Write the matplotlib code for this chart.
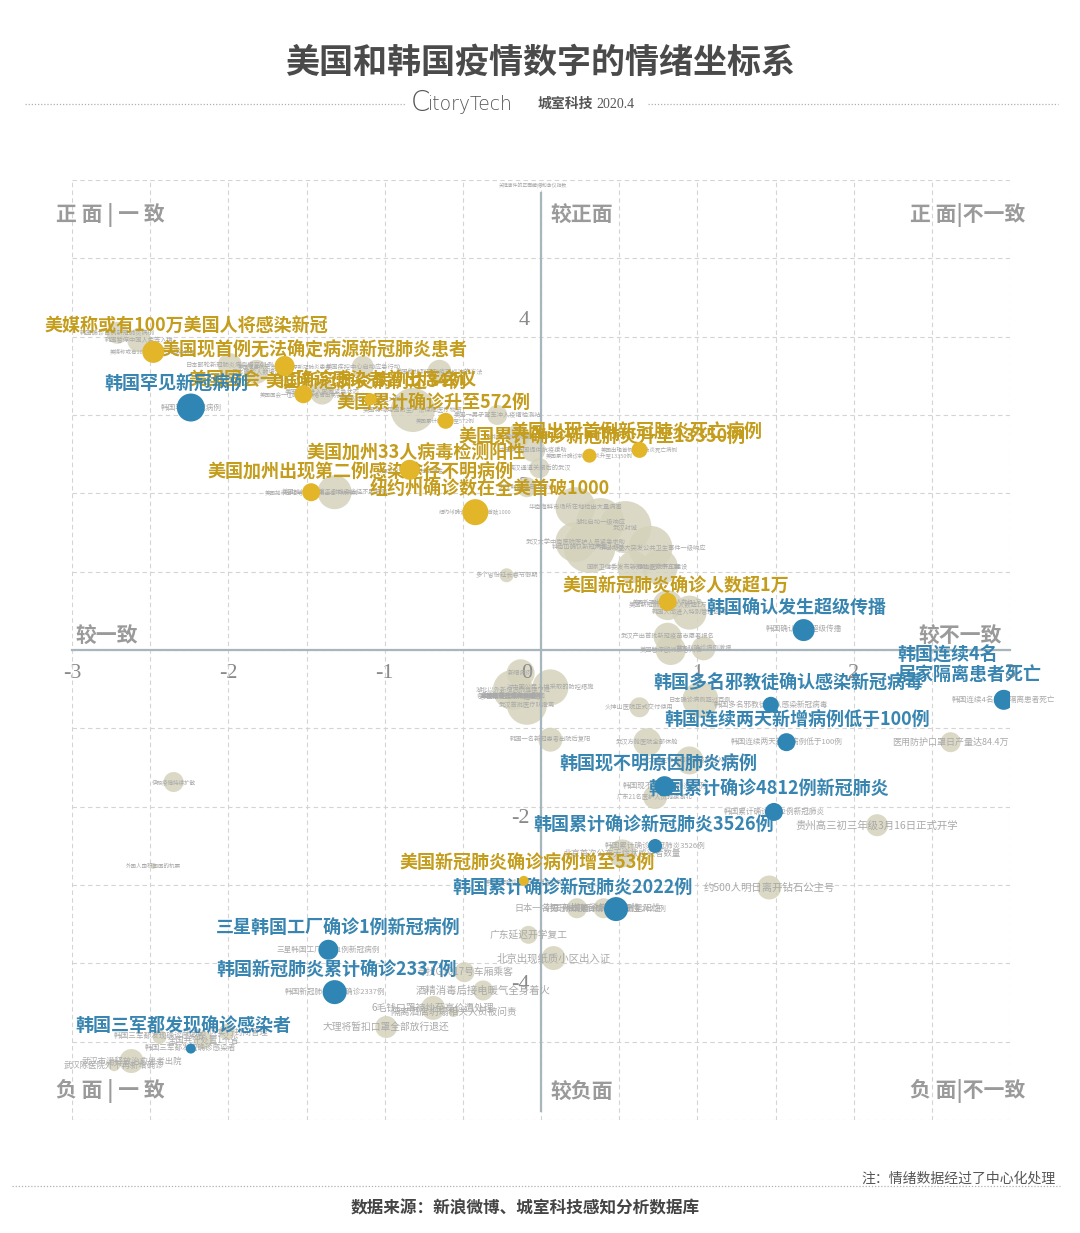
import matplotlib
matplotlib.use("Agg")
import matplotlib.pyplot as plt
import numpy as np
from matplotlib.lines import Line2D

plt.rcParams['font.family'] = ['Noto Sans CJK SC', 'DejaVu Sans']

#%% DADOS -- eventos destacados (x = consistência, y = emoção)

# 美国 (金色)
us_events = ['美媒称或有100万美国人将感染新冠', '美国现首例无法确定病源新冠肺炎患者',
             '美国国会一位确诊感染者曾出席会议', '美国新冠肺炎病例达34例',
             '美国累计确诊升至572例', '美国出现首例新冠肺炎死亡病例',
             '美国累计确诊新冠肺炎升至13350例', '美国加州33人病毒检测阳性',
             '美国加州出现第二例感染途径不明病例', '纽约州确诊数在全美首破1000',
             '美国新冠肺炎确诊人数超1万', '美国新冠肺炎确诊病例增至53例']
us_x = [-2.48, -1.64, -1.52, -1.09, -0.61, 0.63, 0.31, -0.84, -1.47, -0.42, 0.81, -0.11]
us_y = [3.59, 3.42, 3.08, 3.02, 2.76, 2.41, 2.34, 2.17, 1.90, 1.66, 0.58, -2.78]
us_heat = [11, 10, 9, 6, 8, 8, 7, 10, 9, 13, 9, 5]

# 韩国 (蓝色)
kr_events = ['韩国罕见新冠病例', '韩国确认发生超级传播', '韩国连续4名\n居家隔离患者死亡',
             '韩国多名邪教徒确认感染新冠病毒', '韩国连续两天新增病例低于100例',
             '韩国现不明原因肺炎病例', '韩国累计确诊4812例新冠肺炎',
             '韩国累计确诊新冠肺炎3526例', '韩国累计确诊新冠肺炎2022例',
             '三星韩国工厂确诊1例新冠病例', '韩国新冠肺炎累计确诊2337例',
             '韩国三军都发现确诊感染者']
kr_x = [-2.24, 1.68, 2.96, 1.47, 1.57, 0.79, 1.49, 0.73, 0.48, -1.36, -1.32, -2.24]
kr_y = [2.92, 0.24, -0.60, -0.66, -1.11, -1.64, -1.95, -2.36, -3.12, -3.61, -4.12, -4.80]
kr_heat = [14, 11, 10, 8, 9, 10, 9, 7, 12, 10, 12, 5]

# 其他事件 (灰色)
other_events = ['韩国确诊首例新冠肺炎病例', '韩国暂停中国人免签入境', '日本邮轮新冠肺炎病例增至61例',
                '日本确诊人数增加', '美国宣布进入国家紧急状态', '美国疾控中心启动应急行动',
                '美国称找到研制疫苗成功的方法', '美国将动用国防生产法保障医疗物资',
                '美国加州出现第二例感染途径不明病例', '美国一男子驾车冲入疫情检测站',
                '湖北新增病例首次下降', '中国向多国提供抗疫援助', '离汉通道关闭后的武汉',
                '武汉封城后首个周末', '华南海鲜市场所在地检出大量病毒', '湖北启动一级响应',
                '武汉封城', '钟南山确认新冠病毒人传人', '广东启动重大突发公共卫生事件一级响应',
                '火神山医院开工建设', '国家卫健委发布新冠肺炎诊疗方案', '武汉大学中南医院医护人员紧急求助',
                '多个省份延长春节假期', '美国新冠肺炎确诊人数超1万', '韩国大邱进入特别管理区域',
                '武汉产出首批新冠疫苗志愿者报名', '意大利确诊病例激增', '湖北以外新增病例连续下降',
                '武汉首批医疗队撤离', '对中国公民入境采取的防控措施', '新增病例',
                '韩国一名新冠患者出院后复阳', '火神山医院正式交付使用', '武汉方舱医院全部休舱',
                '美国暂停欧洲旅客入境', '日本确诊病例超过百例', '波士顿生物公司新冠疫苗进入试验',
                '广东21名医护人员驰援湖北', '医用防护口罩日产量达84.4万',
                '贵州高三初三年级3月16日正式开学', '约500人明日离开钻石公主号',
                '北京首次公布无症状感染者数量', '日本一名男子出院后检测呈阳性',
                '韩国新增确诊病例检测呈阳性', '广东延迟开学复工', '北京出现纸质小区出入证',
                '寻找G1017号车厢乘客', '酒精消毒后接电暖气全身着火', '6毛钱口罩被炒至高价遭处理',
                '隔离酒店坍塌相关人员被问责', '大理将暂扣口罩全部放行退还', '伊朗疫情持续扩散',
                '外国人囤积回国的机票', '武汉市满释放治愈患者出院', '武汉除医院外不再新增确诊',
                '全国共计处置1个省', '北京小区实行封闭管理', '韩国三军都发现确诊感染者',
                '关键事件的正面情绪和争议指数',
                '多地发布疫情防控通告', '全国新增确诊病例回落', '复工复产有序推进',
                '多国撤侨包机抵达武汉', '湖北高速公路恢复通行', '各地援鄂医疗队陆续返回']
other_x = [-2.71, -2.57, -1.99, -1.82, -1.40, -1.14, -0.65, -0.82, -1.32, -0.28,
           -0.15, -0.05, -0.01, -0.09, 0.22, 0.38, 0.54, 0.31, 0.70, 0.76,
           0.59, 0.22, -0.22, 0.81, 0.95, 0.81, 1.04, -0.18, -0.09, 0.06,
           -0.13, 0.06, 0.63, 0.68, 0.83, 1.02, 0.95, 0.73, 2.62, 2.15,
           1.46, 0.52, 0.23, 0.40, -0.08, 0.08, -0.49, -0.37, -0.69, -0.56,
           -0.99, -2.35, -2.48, -2.62, -2.73, -2.16, -2.01, -2.44, -0.05,
           -0.19, -0.19, -0.19, -0.19, -0.19, -0.19]
other_y = [3.82, 3.73, 3.43, 3.35, 3.10, 3.41, 3.35, 2.89, 1.90, 2.83,
           2.57, 2.41, 2.19, 1.96, 1.72, 1.54, 1.48, 1.24, 1.23, 1.00,
           1.00, 1.30, 0.90, 0.54, 0.45, 0.16, 0.02, -0.48, -0.66, -0.45,
           -0.28, -1.08, -0.69, -1.11, 0.00, -0.60, -1.33, -1.77, -1.11, -2.11,
           -2.86, -2.45, -3.11, -3.11, -3.43, -3.71, -3.88, -4.10, -4.31, -4.36,
           -4.54, -1.59, -2.60, -4.95, -5.00, -4.70, -4.60, -4.66, 5.59,
           -0.55, -0.56, -0.55, -0.57, -0.56, -0.55]
other_heat = [11, 12, 12, 12, 12, 11, 12, 22, 17, 10,
              12, 12, 10, 10, 20, 24, 26, 26, 22, 18,
              16, 20, 7, 15, 17, 14, 12, 20, 20, 18,
              14, 12, 10, 14, 15, 18, 14, 12, 10, 11,
              12, 14, 10, 10, 9, 12, 10, 10, 12, 5,
              11, 10, 3, 12, 6, 9, 8, 7, 1.5,
              1, 1, 1, 1, 1, 1]

#%% LAYOUT / estilo (deslocamento dos rótulos em pixels)
us_dx = [33, 30, 29, -4, -12, -3, 13, 6, 49, 14, 8, 3]
us_up = [27, 16, 14, 17, 18, 18, 18, 17, 20, 23, 16, 18]
kr_dx = [-14, -7, -34, 18, 11, -6, -5, -1, -43, 10, 2, -7]
kr_up = [23, 23, 35, 22, 22, 22, 23, 21, 21, 22, 22, 22]
other_fs = [4.5] * 38 + [6.5, 7.5, 7.5, 6, 6.5, 6.5, 7, 7.5, 7, 7.5, 7, 7, 7,
                         4, 4, 6, 6, 6, 6, 5.5, 3.5, 4.5, 4.5, 4.5, 4.5, 4.5, 4.5]

GOLD = '#e2b628'
GOLD_TXT = '#c49d1c'
BLUE = '#2f86b4'
BLUE_TXT = '#3785b0'
BEIGE = '#d5d3bb'
GREY_TXT = '#a9a9a9'
TICK_GREY = '#8a8a8a'


def area(h):
    # raio em px -> area do marcador em pt^2 (dpi 100)
    return (1.44 * np.asarray(h, dtype=float)) ** 2


W, H = 1080, 1233
fig = plt.figure(figsize=(W / 100, H / 100), dpi=100)
ax = fig.add_axes([72 / W, 1 - 1120 / H, 938 / W, 940 / H])

YL = 5.66
ax.set_xlim(-3, 3)
ax.set_ylim(-YL, YL)

# grade tracejada (independente dos ticks)
ax.xaxis.remove_overlapping_locs = False
ax.yaxis.remove_overlapping_locs = False
ax.set_xticks(np.arange(-3, 3.01, 0.5), minor=True)
ax.set_yticks(np.linspace(-YL, YL, 13), minor=True)
ax.grid(which='minor', color='#d4d4d4', linestyle=(0, (4, 3)), linewidth=0.8)
ax.grid(which='major', visible=False)
ax.set_axisbelow(True)

ax.set_xticks([-3, -2, -1, 1, 2, 3], ['-3', '-2', '-1', '1', '2', '3'])
ax.set_yticks([-4, -2, 2, 4], ['-4', '-2', '2', '4'])
ax.tick_params(which='both', length=0)
ax.tick_params(which='major', labelsize=16, labelcolor=TICK_GREY,
               labelfontfamily='Liberation Serif')
ax.tick_params(axis='x', pad=10)
ax.tick_params(axis='y', pad=8)

for s in ['top', 'right']:
    ax.spines[s].set_visible(False)
ax.spines['bottom'].set_position(('data', 0))
ax.spines['left'].set_position(('data', 0))
ax.spines['left'].set_bounds(-5.55, 5.5)
for s in ['bottom', 'left']:
    ax.spines[s].set_color('#a7b5bc')
    ax.spines[s].set_linewidth(1.6)
    ax.spines[s].set_zorder(2.5)

ax.annotate('0', xy=(0, 0), xytext=(-9, -23), textcoords='offset pixels',
            ha='right', va='center', fontsize=16, fontfamily='Liberation Serif',
            color=TICK_GREY)

# bolhas cinzas
ax.scatter(other_x, other_y, s=area(other_heat), color=BEIGE, alpha=0.85,
           linewidths=0, zorder=1)
for t, x, y, fs in zip(other_events, other_x, other_y, other_fs):
    ax.text(x, y, t, fontsize=fs, color=GREY_TXT, ha='center', va='center', zorder=3)

# rótulos pequenos dos eventos destacados
for t, x, y in zip(us_events, us_x, us_y):
    ax.text(x, y, t.replace('\n', ''), fontsize=4, color=GREY_TXT, ha='center', va='center', zorder=3)
for t, x, y in zip(kr_events, kr_x, kr_y):
    ax.text(x, y, t.replace('\n', ''), fontsize=5.5, color=GREY_TXT, ha='center', va='center', zorder=3)

# eventos destacados
ax.scatter(us_x, us_y, s=area(us_heat), color=GOLD, linewidths=0, zorder=7)
ax.scatter(kr_x, kr_y, s=area(kr_heat), color=BLUE, linewidths=0, zorder=7)

for t, x, y, dx, up in zip(us_events, us_x, us_y, us_dx, us_up):
    ax.annotate(t, xy=(x, y), xytext=(dx, up), textcoords='offset pixels',
                ha='center', va='center', fontsize=13, fontweight='bold',
                color=GOLD_TXT, zorder=6)
for t, x, y, dx, up in zip(kr_events, kr_x, kr_y, kr_dx, kr_up):
    ax.annotate(t, xy=(x, y), xytext=(dx, up), textcoords='offset pixels',
                ha='center', va='center', ma='left', fontsize=13, fontweight='bold',
                color=BLUE_TXT, zorder=6, linespacing=1.05)

# quadrantes
qstyle = dict(fontsize=15, fontweight='bold', color='#9a9a9a', va='center', zorder=4,
              clip_on=False)
ax.text(-3.10, 5.24, '正 面 | 一 致', ha='left', **qstyle)
ax.text(0.06, 5.24, '较正面', ha='left', **qstyle)
ax.text(3.10, 5.24, '正 面|不一致', ha='right', **qstyle)
ax.text(-2.98, 0.17, '较一致', ha='left', **qstyle)
ax.text(2.95, 0.17, '较不一致', ha='right', **qstyle)
ax.text(-3.10, -5.31, '负 面 | 一 致', ha='left', **qstyle)
ax.text(0.06, -5.31, '较负面', ha='left', **qstyle)
ax.text(3.10, -5.31, '负 面|不一致', ha='right', **qstyle)

# cabeçalho
fig.text(540 / W, 1 - 62 / H, '美国和韩国疫情数字的情绪坐标系', ha='center', va='center',
         fontsize=24.5, fontweight='bold', color='#4a4a4a')
dot = dict(transform=fig.transFigure, color='#b0b0b0', linewidth=0.9, linestyle=(0, (1, 1.5)))
fig.add_artist(Line2D([25 / W, 405 / W], [1 - 104 / H] * 2, **dot))
fig.add_artist(Line2D([648 / W, 1058 / W], [1 - 104 / H] * 2, **dot))
fig.text(411 / W, 1 - 103 / H, 'C', ha='left', va='center', fontsize=20,
         fontfamily='DejaVu Sans', fontweight='light', color='#555555')
fig.text(428 / W, 1 - 104 / H, 'itoryTech', ha='left', va='center', fontsize=13.5,
         fontfamily='DejaVu Sans', fontweight='light', color='#555555')
fig.text(538 / W, 1 - 104 / H, '城室科技', ha='left', va='center', fontsize=10,
         fontweight='bold', color='#555555')
fig.text(596 / W, 1 - 104 / H, '2020.4', ha='left', va='center', fontsize=10,
         fontfamily='Liberation Serif', color='#555555')

# rodapé
fig.add_artist(Line2D([12 / W, 1060 / W], [1 - 1186 / H] * 2, **dot))
fig.text(1056 / W, 1 - 1179 / H, '注：情绪数据经过了中心化处理', ha='right', va='center',
         fontsize=10, color='#555555')
fig.text(525 / W, 1 - 1208 / H, '数据来源：新浪微博、城室科技感知分析数据库', ha='center',
         va='center', fontsize=12, fontweight='bold', color='#444444')

fig.savefig('out.png', dpi=100)
